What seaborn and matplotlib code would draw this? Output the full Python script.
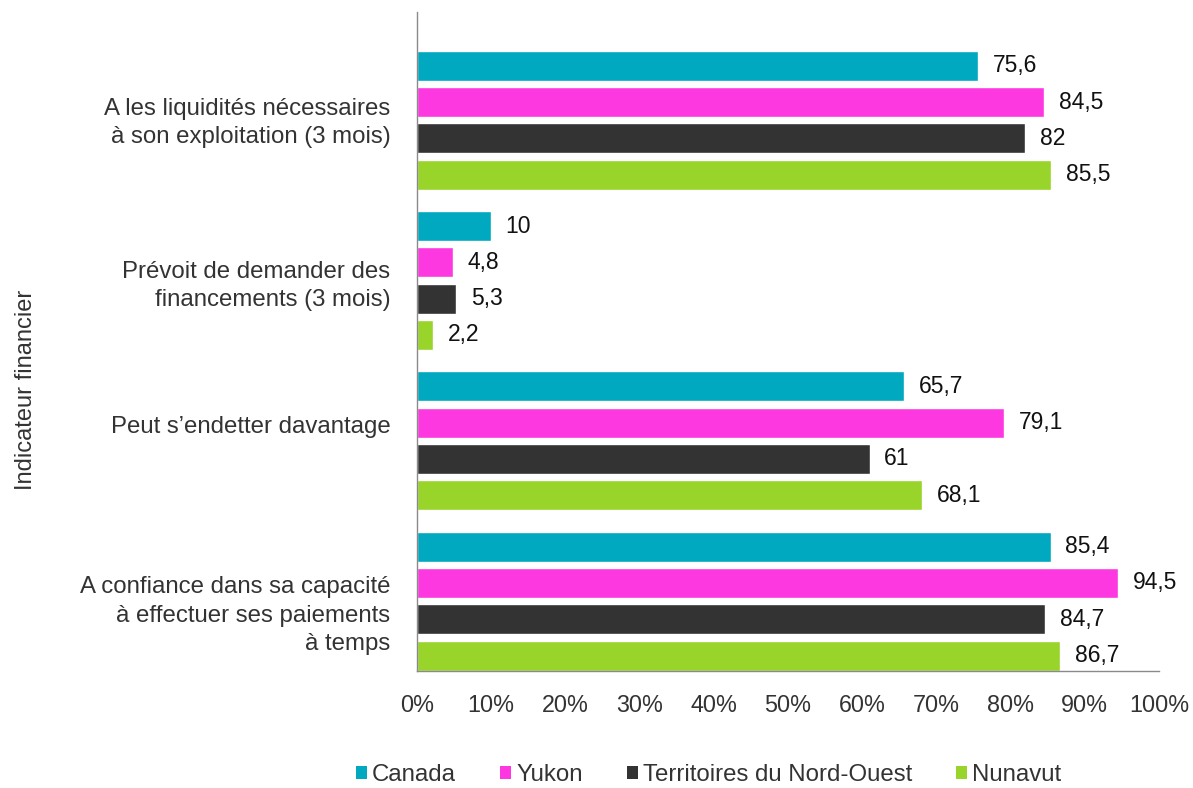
import matplotlib
matplotlib.use("Agg")
import matplotlib.pyplot as plt
from matplotlib.patches import Patch
from matplotlib.transforms import ScaledTranslation
import seaborn as sns
import pandas as pd

# Indicators (y categories) and regions (hue)
indicators = [
    "A les liquidités nécessaires\nà son exploitation (3 mois)",
    "Prévoit de demander des\nfinancements (3 mois)",
    "Peut s\u2019endetter davantage",
    "A confiance dans sa capacité\nà effectuer ses paiements\nà temps",
]
regions = ["Canada", "Yukon", "Territoires du Nord-Ouest", "Nunavut"]

canada = [75.6, 10.0, 65.7, 85.4]
yukon = [84.5, 4.8, 79.1, 94.5]
tno = [82.0, 5.3, 61.0, 84.7]
nunavut = [85.5, 2.2, 68.1, 86.7]

xticks = [0, 10, 20, 30, 40, 50, 60, 70, 80, 90, 100]
colors = ["#00A9BF", "#FD38E0", "#333333", "#99D42B"]

series = [canada, yukon, tno, nunavut]
rows = []
for reg, vals in zip(regions, series):
    for ind, v in zip(indicators, vals):
        rows.append({"Indicateur": ind, "Région": reg, "Valeur": v})
df = pd.DataFrame(rows)

sns.set_theme(style="white")
plt.rcParams["font.family"] = ["Liberation Sans", "DejaVu Sans"]
FS_CAT = 17.3
FS_TICK = 16.8
FS_VAL = 16.5
TXT = "#333333"

fig = plt.figure(figsize=(11.93, 7.88), dpi=100)
ax = fig.add_axes([0.3495, 0.1489, 0.622, 0.8359])

sns.barplot(
    data=df, y="Indicateur", x="Valeur", hue="Région",
    order=indicators, hue_order=regions, palette=colors,
    orient="h", width=0.906, gap=0.174, saturation=1,
    legend=False, ax=ax,
)

def fmt(v):
    s = f"{v:.1f}".replace(".", ",")
    return s[:-2] if s.endswith(",0") else s

for cont, vals in zip(ax.containers, series):
    ax.bar_label(cont, labels=[fmt(v) for v in vals], padding=10.5,
                 fontsize=FS_VAL, color="#111111")

ax.set_xlim(0, 100)
ax.set_ylim(3.434, -0.675)
ax.set_xticks(xticks)
ax.set_xticklabels([f"{t}%" for t in xticks])
ax.tick_params(axis="x", length=0, pad=17, labelsize=FS_TICK, labelcolor=TXT)
ax.tick_params(axis="y", length=0, pad=19, labelsize=FS_CAT, labelcolor=TXT)

# small vertical nudges of the category labels (points, up is positive)
label_shift = [2, 0, 11.5, -6.5]
for lab, dy in zip(ax.get_yticklabels(), label_shift):
    lab.set_linespacing(1.38)
    lab.set_transform(lab.get_transform() + ScaledTranslation(0, dy / 72, fig.dpi_scale_trans))

for side in ["top", "right"]:
    ax.spines[side].set_visible(False)
for side in ["left", "bottom"]:
    ax.spines[side].set_color("#8a8a8a")
    ax.spines[side].set_linewidth(1.0)

ax.set_xlabel("")
ax.set_ylabel("Indicateur financier", fontsize=17, color=TXT)
ax.yaxis.set_label_coords(-0.512, 0.426)

handles = [Patch(facecolor=c, edgecolor="none", label=r) for c, r in zip(colors, regions)]
fig.legend(
    handles=handles, loc="center", bbox_to_anchor=(0.594, 0.0165),
    ncol=4, frameon=False, fontsize=FS_CAT, handlelength=0.45, handleheight=0.45,
    handletextpad=0.2, columnspacing=1.85, labelcolor=TXT,
)

fig.savefig("out.png", dpi=100)
